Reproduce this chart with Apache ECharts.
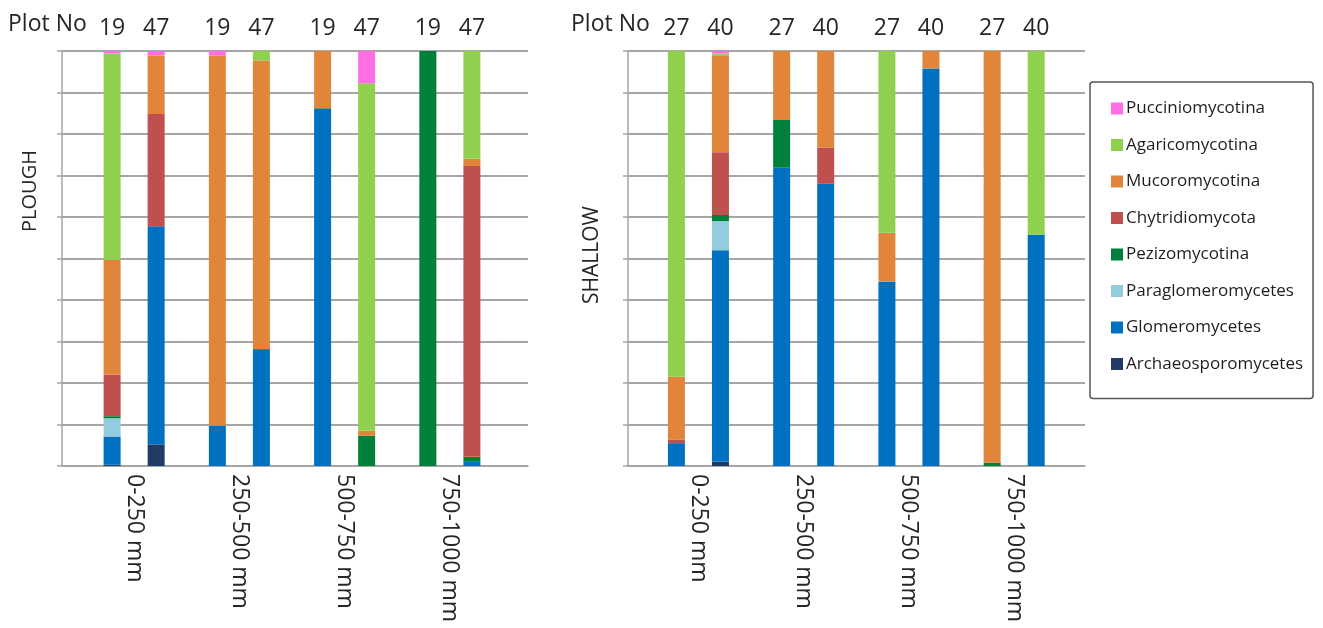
<!DOCTYPE html>
<html>
<head>
<meta charset="utf-8">
<title>Fungal community composition by depth</title>
<script src="https://cdn.jsdelivr.net/npm/echarts@6/dist/echarts.min.js"></script>
<style>
  html, body { margin: 0; padding: 0; background: #ffffff; }
  #chart { width: 1323px; height: 628px; }
</style>
</head>
<body>
<div id="chart"></div>
<script>
// Depth classes along the x axis
const depths = ['0-250 mm', '250-500 mm', '500-750 mm', '750-1000 mm'];

// Taxa, stacked from the bottom of each bar to the top
const taxa = [
  'Archaeosporomycetes', 'Glomeromycetes', 'Paraglomeromycetes', 'Pezizomycotina',
  'Chytridiomycota', 'Mucoromycotina', 'Agaricomycotina', 'Pucciniomycotina'
];
const taxonColors = [
  '#1f3b66', '#0070c0', '#93cddd', '#00803a',
  '#c0504d', '#e0853a', '#8fd14f', '#ff6ee2'
];

// Relative abundance (%), one row per taxon (same order as taxa), one column per depth
const plough19 = [
  [0.3, 0, 0, 0],
  [6.8, 9.7, 86.0, 0],
  [4.4, 0, 0, 0],
  [0.5, 0, 0.2, 100],
  [10.0, 0, 0, 0],
  [27.7, 89.2, 13.8, 0],
  [49.7, 0, 0, 0],
  [0.6, 1.1, 0, 0]
];
const plough47 = [
  [5.2, 0, 0, 0],
  [52.6, 28.0, 0, 1.0],
  [0, 0, 0, 0],
  [0, 0.2, 7.3, 1.2],
  [27.0, 0, 0, 70.1],
  [14.0, 69.5, 1.2, 1.8],
  [0.2, 2.3, 83.7, 25.9],
  [1.0, 0, 7.8, 0]
];
const shallow27 = [
  [0, 0, 0, 0],
  [5.5, 71.9, 44.4, 0],
  [0, 0, 0, 0],
  [0, 11.5, 0, 0.8],
  [0.9, 0, 0, 0],
  [15.1, 16.6, 11.8, 99.2],
  [78.5, 0, 43.8, 0],
  [0, 0, 0, 0]
];
const shallow40 = [
  [1.0, 0, 0, 0],
  [51.0, 68.0, 95.8, 55.7],
  [7.0, 0, 0, 0],
  [1.5, 0, 0, 0],
  [15.1, 8.7, 0, 0],
  [23.4, 23.3, 4.2, 0],
  [0.4, 0, 0, 44.3],
  [0.6, 0, 0, 0]
];

// Plot numbers shown above each pair of bars
const ploughPlots = ['19', '47'];
const shallowPlots = ['27', '40'];
const yTicks = { min: 0, max: 100, interval: 10 };

const FONT = '"Open Sans", "Liberation Sans", sans-serif';
const TEXT = '#262626';
const GRID_LINE = '#a6a6a6';

// Frame grids (gridlines, y axis line) and bar grids for the two panels
const grids = [
  { left: 62, width: 466, top: 51, height: 415, outerBoundsMode: 'none' },   // plough frame
  { left: 81.5, width: 421, top: 51, height: 415, outerBoundsMode: 'none' }, // plough bars
  { left: 628, width: 457, top: 51, height: 415, outerBoundsMode: 'none' },  // shallow frame
  { left: 645.8, width: 421, top: 51, height: 415, outerBoundsMode: 'none' } // shallow bars
];

function frameAxes(gridIndex) {
  return {
    x: {
      type: 'value', gridIndex, min: 0, max: 1,
      axisLine: { show: true, onZero: false, lineStyle: { color: GRID_LINE, width: 1.5 } },
      axisTick: { show: false }, axisLabel: { show: false }, splitLine: { show: false }
    },
    y: {
      type: 'value', gridIndex, min: yTicks.min, max: yTicks.max, interval: yTicks.interval,
      axisLine: { show: true, lineStyle: { color: GRID_LINE, width: 1.5 } },
      axisTick: { show: true, inside: false, length: 5, lineStyle: { color: GRID_LINE, width: 1.5 } },
      axisLabel: { show: false },
      splitLine: { show: true, lineStyle: { color: GRID_LINE, width: 1.8 } }
    }
  };
}

function barAxes(gridIndex) {
  return {
    x: {
      type: 'category', gridIndex, data: depths,
      axisLine: { show: false }, axisTick: { show: false },
      axisLabel: {
        rotate: -90, margin: 8, fontSize: 23, color: TEXT, fontFamily: FONT,
        interval: 0
      },
      splitLine: { show: false }
    },
    y: {
      type: 'value', gridIndex, min: yTicks.min, max: yTicks.max, interval: yTicks.interval,
      show: false
    }
  };
}

const pf = frameAxes(0), pb = barAxes(1), sf = frameAxes(2), sb = barAxes(3);
const xAxis = [pf.x, pb.x, sf.x, sb.x];
const yAxis = [pf.y, pb.y, sf.y, sb.y];

// One stacked bar per plot; the zero-height top segment carries the plot number
function plotSeries(rows, plotNo, axisIndex, stackId) {
  const list = taxa.map((name, i) => ({
    name,
    type: 'bar',
    stack: stackId,
    xAxisIndex: axisIndex,
    yAxisIndex: axisIndex,
    barWidth: 17,
    barGap: '159%',
    itemStyle: { color: taxonColors[i] },
    emphasis: { disabled: true },
    data: rows[i]
  }));
  list.push({
    name: 'Plot ' + plotNo,
    type: 'bar',
    stack: stackId,
    xAxisIndex: axisIndex,
    yAxisIndex: axisIndex,
    barWidth: 17,
    barGap: '159%',
    itemStyle: { color: 'rgba(0,0,0,0)' },
    emphasis: { disabled: true },
    label: {
      show: true, position: 'top', distance: 11,
      formatter: () => plotNo,
      fontSize: 23, color: TEXT, fontFamily: FONT
    },
    data: depths.map(() => 0)
  });
  return list;
}

const series = [].concat(
  plotSeries(plough19, ploughPlots[0], 1, 'plough' + ploughPlots[0]),
  plotSeries(plough47, ploughPlots[1], 1, 'plough' + ploughPlots[1]),
  plotSeries(shallow27, shallowPlots[0], 3, 'shallow' + shallowPlots[0]),
  plotSeries(shallow40, shallowPlots[1], 3, 'shallow' + shallowPlots[1])
);

const chart = echarts.init(document.getElementById('chart'), null, { renderer: 'canvas' });
chart.setOption({
  animation: false,
  backgroundColor: '#ffffff',
  textStyle: { fontFamily: FONT },
  grid: grids,
  xAxis,
  yAxis,
  legend: {
    orient: 'vertical',
    left: 1090,
    top: 82,
    data: taxa.slice().reverse(),
    selectedMode: true,
    itemWidth: 12,
    itemHeight: 12,
    itemGap: 19.5,
    icon: 'rect',
    padding: [18, 10, 26, 21],
    borderColor: '#555555',
    borderWidth: 1.5,
    borderRadius: 3,
    textStyle: { fontSize: 17, color: '#1e1e1e', fontFamily: FONT, padding: [0, 0, 0, -2] }
  },
  graphic: [
    { type: 'text', left: 8, top: 13, style: { text: 'Plot No', fontSize: 23, fill: TEXT, fontFamily: FONT } },
    { type: 'text', left: 571, top: 13, style: { text: 'Plot No', fontSize: 23, fill: TEXT, fontFamily: FONT } },
    {
      type: 'text', x: 30, y: 191, rotation: Math.PI / 2,
      style: { text: 'PLOUGH', fontSize: 20, fill: TEXT, fontFamily: FONT, align: 'center', verticalAlign: 'middle' }
    },
    {
      type: 'text', x: 592, y: 255, rotation: Math.PI / 2,
      style: { text: 'SHALLOW', fontSize: 21, fill: TEXT, fontFamily: FONT, align: 'center', verticalAlign: 'middle' }
    }
  ],
  series
});
</script>
</body>
</html>
